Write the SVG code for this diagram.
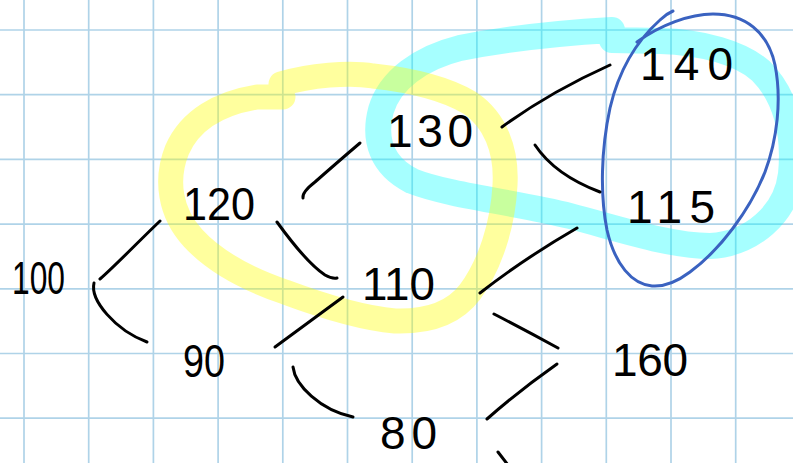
<svg xmlns="http://www.w3.org/2000/svg" width="793" height="463" viewBox="0 0 793 463">
<style>
.g{stroke:#afd3e8;stroke-width:1.7}
.hl{fill:none;stroke-linecap:round;stroke-linejoin:round}
.c{fill:none;stroke:#000;stroke-width:3;stroke-linecap:round;stroke-linejoin:round}
.n{font-family:"Liberation Sans",Arial,sans-serif;font-size:46px;fill:#000}
</style>
<rect width="793" height="463" fill="#fff"/>
<g id="grid">
<line class="g" x1="24" y1="0" x2="24" y2="463"/>
<line class="g" x1="88.7" y1="0" x2="88.7" y2="463"/>
<line class="g" x1="153.4" y1="0" x2="153.4" y2="463"/>
<line class="g" x1="218.1" y1="0" x2="218.1" y2="463"/>
<line class="g" x1="282.8" y1="0" x2="282.8" y2="463"/>
<line class="g" x1="347.5" y1="0" x2="347.5" y2="463"/>
<line class="g" x1="412.2" y1="0" x2="412.2" y2="463"/>
<line class="g" x1="476.9" y1="0" x2="476.9" y2="463"/>
<line class="g" x1="541.6" y1="0" x2="541.6" y2="463"/>
<line class="g" x1="606.3" y1="0" x2="606.3" y2="463"/>
<line class="g" x1="671" y1="0" x2="671" y2="463"/>
<line class="g" x1="735.7" y1="0" x2="735.7" y2="463"/>
<line class="g" x1="0" y1="30" x2="793" y2="30"/>
<line class="g" x1="0" y1="94.7" x2="793" y2="94.7"/>
<line class="g" x1="0" y1="159.4" x2="793" y2="159.4"/>
<line class="g" x1="0" y1="224.1" x2="793" y2="224.1"/>
<line class="g" x1="0" y1="288.8" x2="793" y2="288.8"/>
<line class="g" x1="0" y1="353.5" x2="793" y2="353.5"/>
<line class="g" x1="0" y1="418.2" x2="793" y2="418.2"/>
</g>
<g id="highlights">
<path class="hl" stroke="#00ffff" stroke-opacity="0.35" stroke-width="26" stroke-linecap="butt" d="M612,30 C560,33 500,40 460,48 C420,58 390,80 381,110 C373,140 382,166 412,181 C450,196 520,203 570,216 C620,229 670,246 710,246 C752,244 786,214 791,174 C795,134 786,96 761,71 C741,53 702,42 660,41 L612,40"/>
<path class="hl" stroke="#ffff00" stroke-opacity="0.38" stroke-width="25" stroke-linecap="butt" d="M281,84 C310,75 350,72 373,76 C410,80 445,88 470,103 C495,120 507,150 505,185 C503,225 490,265 470,292 C455,312 430,322 395,321 C360,318 320,305 285,292 C250,280 215,262 193,238 C170,213 165,180 177,150 C190,120 220,103 257,97 L283,97"/>
<path class="hl" stroke="#3a62c0" stroke-width="3" d="M637,42 C660,25 690,14 713,14 C745,14 768,32 775,65 C782,100 777,140 765,172 C750,210 720,250 690,272 C678,281 665,287 652,286 C632,284 615,265 607,230 C600,195 601,150 610,108 C617,78 632,45 660,20 Q666,14 673,11"/>
</g>
<g id="connectors">
<path class="c" d="M100,279 C115,266 140,240 160,221"/>
<path class="c" d="M94,283 C90,300 115,330 147,342"/>
<path class="c" d="M303,198 Q302,192 315,182 Q340,160 360,143"/>
<path class="c" d="M277,222 C290,240 310,265 325,275 Q332,279 337,278"/>
<path class="c" d="M502,127 Q550,92 610,65"/>
<path class="c" d="M535,145 Q555,175 600,192"/>
<path class="c" d="M480,293 Q525,258 577,228"/>
<path class="c" d="M343,297 L275,347"/>
<path class="c" d="M293,367 C295,385 320,410 353,417"/>
<path class="c" d="M494,314 Q525,330 558,348"/>
<path class="c" d="M487,419 Q520,390 557,364"/>
<path class="c" d="M498,452 L508,465"/>
</g>
<g id="n100"><text class="n" x="12" y="294" textLength="53" lengthAdjust="spacingAndGlyphs">100</text></g>
<g id="n120"><text class="n" x="183" y="220" textLength="72" lengthAdjust="spacingAndGlyphs">120</text></g>
<g id="n130"><text class="n" x="387" y="147" textLength="86" lengthAdjust="spacing">130</text></g>
<g id="n110"><text class="n" x="362" y="300" textLength="73" lengthAdjust="spacingAndGlyphs">110</text></g>
<g id="n140"><text class="n" x="640" y="80" textLength="93" lengthAdjust="spacing">140</text></g>
<g id="n115"><text class="n" x="627" y="223" textLength="88" lengthAdjust="spacing">115</text></g>
<g id="n90"><text class="n" x="183" y="377" textLength="42" lengthAdjust="spacingAndGlyphs">90</text></g>
<g id="n80"><text class="n" x="380" y="449" textLength="57" lengthAdjust="spacing">80</text></g>
<g id="n160"><text class="n" x="612" y="376" textLength="76" lengthAdjust="spacing">160</text></g>
</svg>
